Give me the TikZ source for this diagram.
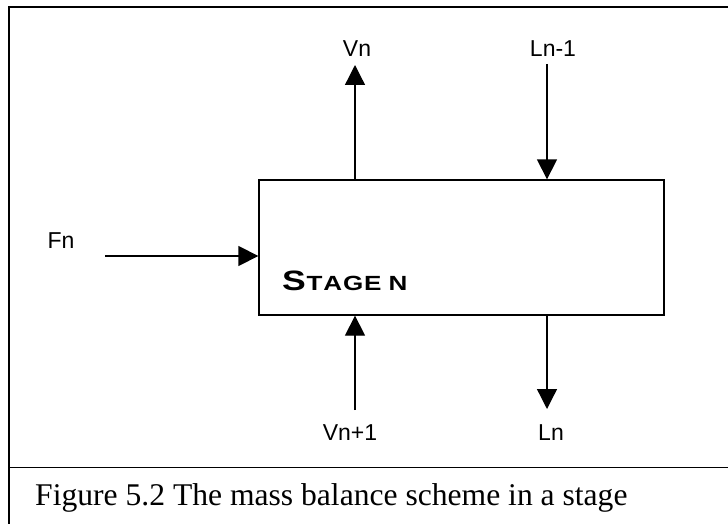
\documentclass[tikz,border=0pt]{standalone}
\usepackage{fontspec}
\setmainfont{Liberation Serif}
\newfontfamily\labelfont{Liberation Sans}
\newfontfamily\stagefont[FakeStretch=1.27]{Liberation Sans}
\usetikzlibrary{arrows.meta}
\tikzset{
  frameline/.style={line width=1.3pt, black},
  stagebox/.style={draw, line width=1.3pt, minimum width=405pt, minimum height=135pt, inner sep=0pt},
  flow/.style={line width=1.3pt, -{Triangle[length=20pt,width=20pt]}},
  flowlabel/.style={font=\labelfont\fontsize{23}{26}\selectfont, anchor=base, inner sep=0pt},
  stagetext/.style={font=\stagefont\bfseries, anchor=base west, inner sep=0pt},
  caption/.style={font=\fontsize{31.6}{36}\selectfont, anchor=base west, inner sep=0pt}
}
\newcommand{\lsp}{\kern0.8pt}
\begin{document}
\begin{tikzpicture}[x=1pt, y=-1pt]
\useasboundingbox (0,0) rectangle (728,524);
% frame round the drawing and the caption
\draw[frameline] (9,524) -- (9,7) -- (728,7);
\draw[frameline] (9,467.5) -- (728,467.5);

% the stage
\node[stagebox] (stage) at (461.5,247.5) {};
\node[stagetext] (stagelabel) at (282,290)
  {{\fontsize{28}{30}\selectfont S}\lsp{\fontsize{20.5}{24}\selectfont T\lsp A\lsp G\lsp E\ N}};

% stream labels
\node[flowlabel] (fn) at (61,248) {Fn};
\node[flowlabel] (vn) at (357,57) {Vn};
\node[flowlabel] (lnm) at (553,57) {Ln-1};
\node[flowlabel] (vnp) at (350,440) {Vn+1};
\node[flowlabel] (ln) at (551,440) {Ln};

% stream ends
\coordinate (fnstart) at (105,256);
\coordinate (vntip) at (355,65);
\coordinate (lnmstart) at (547,64);
\coordinate (vnpstart) at (355,410);
\coordinate (lntip) at (547,409);

% streams
\draw[flow] (fnstart) -- (fnstart -| stage.west);
\draw[flow] (vntip |- stage.north) -- (vntip);
\draw[flow] (lnmstart) -- (lnmstart |- stage.north);
\draw[flow] (vnpstart) -- (vnpstart |- stage.south);
\draw[flow] (lntip |- stage.south) -- (lntip);

% caption
\node[caption] (cap) at (35,505) {Figure 5.2 The mass balance scheme in a stage};
\end{tikzpicture}
\end{document}
